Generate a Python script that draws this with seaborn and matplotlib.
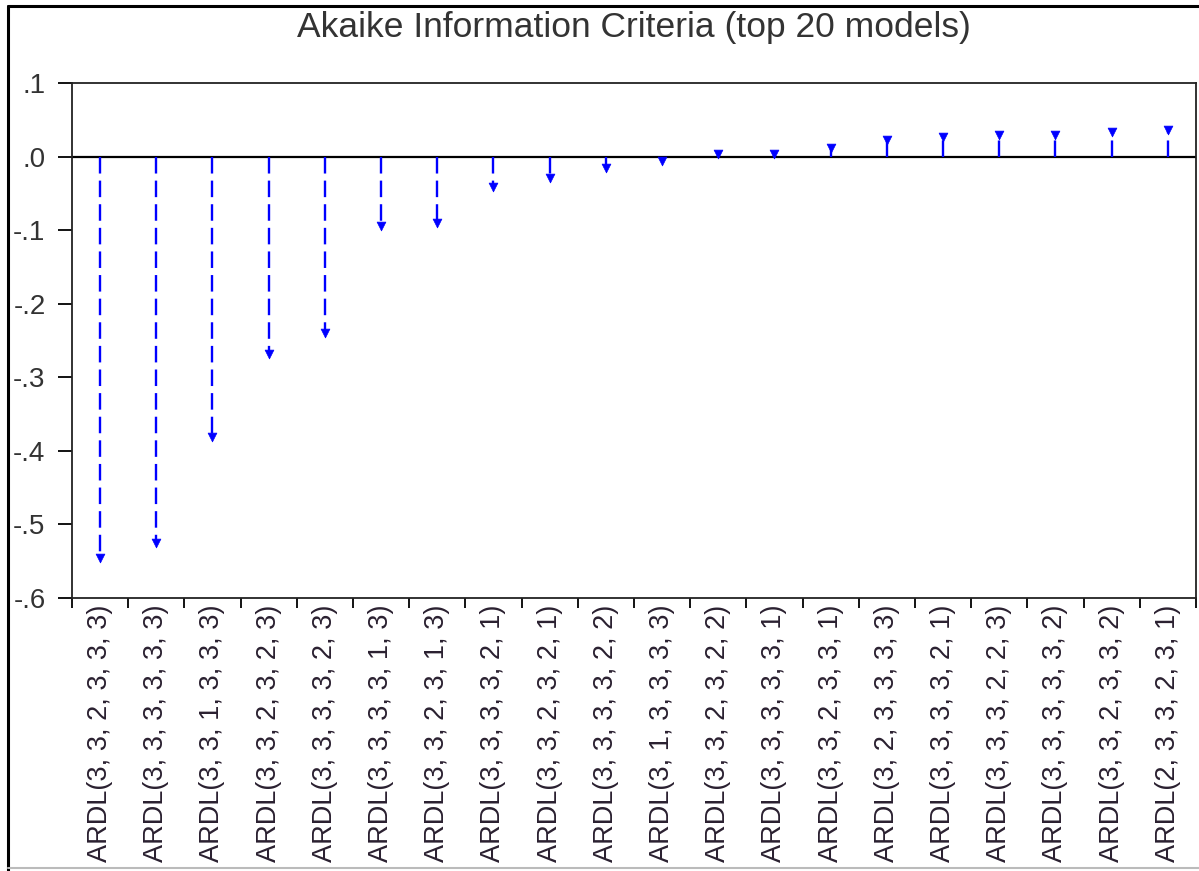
import matplotlib
matplotlib.use("Agg")
import matplotlib.pyplot as plt
from matplotlib.lines import Line2D
import seaborn as sns
import pandas as pd
import numpy as np

models = [
    "ARDL(3, 3, 2, 3, 3, 3)", "ARDL(3, 3, 3, 3, 3, 3)", "ARDL(3, 3, 1, 3, 3, 3)",
    "ARDL(3, 3, 2, 3, 2, 3)", "ARDL(3, 3, 3, 3, 2, 3)", "ARDL(3, 3, 3, 3, 1, 3)",
    "ARDL(3, 3, 2, 3, 1, 3)", "ARDL(3, 3, 3, 3, 2, 1)", "ARDL(3, 3, 2, 3, 2, 1)",
    "ARDL(3, 3, 3, 3, 2, 2)", "ARDL(3, 1, 3, 3, 3, 3)", "ARDL(3, 3, 2, 3, 2, 2)",
    "ARDL(3, 3, 3, 3, 3, 1)", "ARDL(3, 3, 2, 3, 3, 1)", "ARDL(3, 2, 3, 3, 3, 3)",
    "ARDL(3, 3, 3, 3, 2, 1)", "ARDL(3, 3, 3, 2, 2, 3)", "ARDL(3, 3, 3, 3, 3, 2)",
    "ARDL(3, 3, 2, 3, 3, 2)", "ARDL(2, 3, 3, 2, 3, 1)",
]
aic = [-0.545, -0.525, -0.381, -0.269, -0.240, -0.094, -0.090, -0.042, -0.029, -0.016,
       -0.006, 0.004, 0.004, 0.011, 0.022, 0.026, 0.029, 0.029, 0.034, 0.036]
yticks = [0.1, 0.0, -0.1, -0.2, -0.3, -0.4, -0.5, -0.6]
ytick_labels = [".1", ".0", "-.1", "-.2", "-.3", "-.4", "-.5", "-.6"]

df = pd.DataFrame({"model": models, "aic": aic, "pos": np.arange(len(models))})

sns.set_style("white")
plt.rcParams["font.family"] = ["Liberation Sans", "DejaVu Sans"]

fig = plt.figure(figsize=(11.99, 8.71), dpi=100)
ax = fig.add_axes([0.060, 0.3134, 0.9375, 0.5913])

blue = "#0000ff"
ax.axhline(0, color="black", lw=1.6, zorder=1)
ax.vlines(df["pos"], 0, df["aic"], colors=blue, lw=1.7,
          linestyles=(0, (7, 3)), zorder=2)
sns.scatterplot(data=df, x="pos", y="aic", ax=ax, color=blue, marker="v",
                s=40, edgecolor=blue, linewidth=0.5, zorder=3)

ax.set_xlim(-0.5, len(models) - 0.5)
ax.set_ylim(-0.6, 0.1)
ax.set_yticks(yticks)
ax.set_yticklabels(ytick_labels, fontsize=20, color="#333333")
ax.set_xticks(df["pos"])
ax.set_xticklabels(models, rotation=90, fontsize=19.5, color="#2a2030")
ax.set_xticks(np.arange(-0.5, len(models)), minor=True)
ax.tick_params(axis="x", which="major", length=0, pad=5)
ax.tick_params(axis="x", which="minor", length=7, width=1.3, direction="out",
               color="black", bottom=True)
ax.tick_params(axis="y", length=10, width=1.3, direction="out", color="black", pad=9, left=True)
ax.set_xlabel("")
ax.set_ylabel("")
for sp in ax.spines.values():
    sp.set_color("#222222")
    sp.set_linewidth(1.3)

fig.text(0.529, 1 - 28 / 871, "Akaike Information Criteria (top 20 models)",
         ha="center", va="center", fontsize=25.5, color="#333333")

# outer frame
fig.add_artist(Line2D([8 / 1199, 8 / 1199], [0, 1 - 6 / 871], color="black", lw=2.2,
                      transform=fig.transFigure))
fig.add_artist(Line2D([8 / 1199, 1], [1 - 6 / 871, 1 - 6 / 871], color="black", lw=2.2,
                      transform=fig.transFigure))
fig.add_artist(Line2D([8 / 1199, 1], [3 / 871, 3 / 871], color="#bbbbbb", lw=1.5,
                      transform=fig.transFigure))

fig.savefig("out.png", dpi=100)
